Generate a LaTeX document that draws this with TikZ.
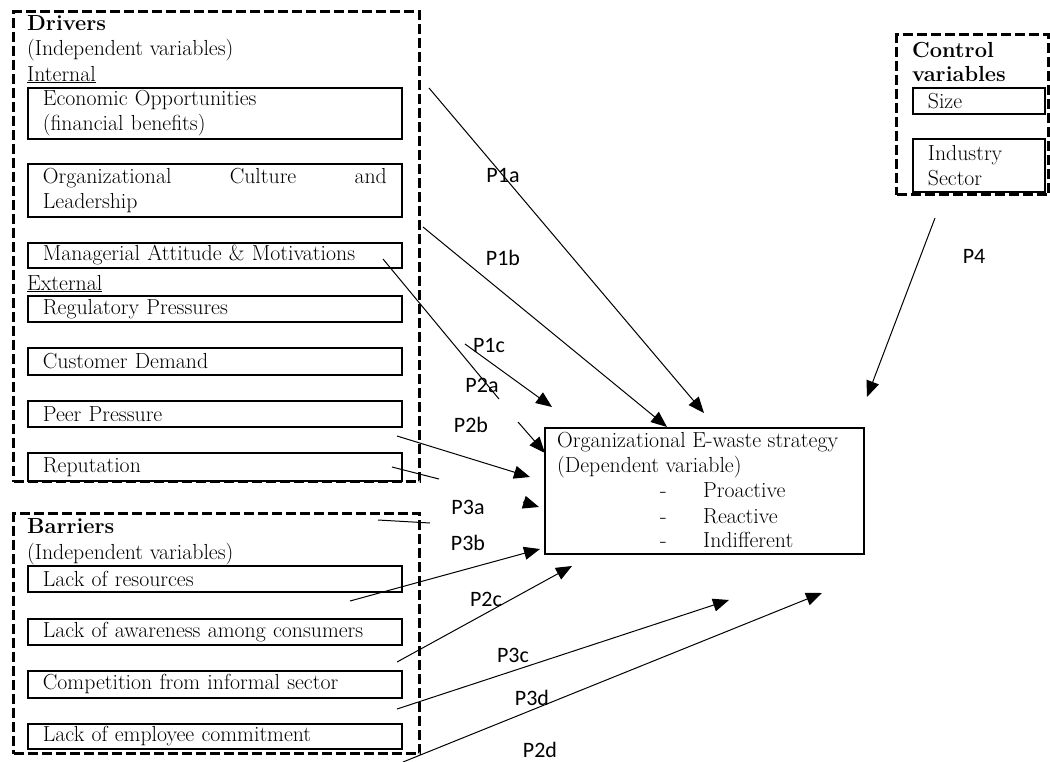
\documentclass[tikz,border=0pt]{standalone}
\usepackage{fontspec}
\newfontfamily\propfont{Carlito}
\usetikzlibrary{arrows.meta}
\tikzset{
  group/.style={draw,line width=3.4pt,dash pattern=on 10pt off 4pt,anchor=north west,inner sep=0pt},
  item/.style={draw,line width=1.8pt,anchor=north west,inner xsep=15pt,inner ysep=0pt,
    align=left,text width=344pt,minimum height=#1},
  item/.default=26pt,
  heading/.style={anchor=base west,inner sep=0pt},
  link/.style={line width=1pt,-{Triangle[length=16pt,width=13pt]}},
  plain/.style={line width=1pt},
  prop/.style={font=\propfont\fontsize{22}{26}\selectfont,inner sep=0pt}
}

\begin{document}
\begin{tikzpicture}[x=1pt,y=-1pt,font=\fontsize{21.8}{25}\selectfont]
  \useasboundingbox (0,0) rectangle (1050,761);

  % dashed groups
  \node[group,minimum width=406pt,minimum height=470pt] (drivers) at (12,10) {};
  \node[group,minimum width=406pt,minimum height=240pt] (barriers) at (12,512) {};
  \node[group,minimum width=152pt,minimum height=160pt] (controls) at (895,33) {};

  % drivers
  \node[heading] (drvtitle) at (27,30) {\textbf{Drivers}};
  \node[heading] (drvsub) at (27,55) {(Independent variables)};
  \node[heading] (internal) at (27,81) {\underline{Internal}};
  \node[item=51pt] (eco) at (27,87) {Economic Opportunities\\(financial benefits)};
  \node[item=53pt] (cult) at (27,163) {Organizational\hfill Culture\hfill and\\Leadership};
  \node[item=25pt] (mgr) at (27,242) {Managerial Attitude \& Motivations};
  \node[heading] (external) at (27,290) {\underline{External}};
  \node[item] (reg) at (27,295) {Regulatory Pressures};
  \node[item=27pt] (cust) at (27,347) {Customer Demand};
  \node[item] (peer) at (27,400) {Peer Pressure};
  \node[item=28pt] (rep) at (27,452) {Reputation};

  % barriers
  \node[heading] (bartitle) at (27,533) {\textbf{Barriers}};
  \node[heading] (barsub) at (27,559) {(Independent variables)};
  \node[item] (res) at (27,565) {Lack of resources};
  \node[item] (aware) at (27,618) {Lack of awareness among consumers};
  \node[item=27pt] (comp) at (27,670) {Competition from informal sector};
  \node[item=25pt] (commit) at (27,723) {Lack of employee commitment};

  % control variables
  \node[heading] (ctltitle) at (912,57) {\textbf{Control}};
  \node[heading] (ctlsub) at (912,81) {\textbf{variables}};
  \node[item,text width=102pt] (size) at (912,87) {Size};
  \node[item=53pt,text width=102pt] (sector) at (912,138) {Industry\\Sector};

  % dependent variable
  \node[draw,line width=1.8pt,anchor=north west,minimum width=319pt,minimum height=126pt] (strategy) at (544,427) {};
  \node[heading] (strattitle) at (557,447) {Organizational E-waste strategy};
  \node[heading] (stratsub) at (557,472) {(Dependent variable)};
  \foreach \y/\txt in {497/Proactive,523/Reactive,547/Indifferent} {
    \node[heading] (dash\txt) at (660,\y) {-};
    \node[heading] (opt\txt) at (703,\y) {\txt};
  }

  % connector ends
  \coordinate (a1) at (429,88);   \coordinate (b1) at (704,413);
  \coordinate (a2) at (423,227);  \coordinate (b2) at (667,427);
  \coordinate (a3) at (465,344);  \coordinate (b3) at (552,407);
  \coordinate (a4) at (518,422);  \coordinate (b4) at (545,453);
  \coordinate (a5) at (397,436);  \coordinate (b5) at (530,477);
  \coordinate (a6) at (523,502);  \coordinate (b6) at (539,507);
  \coordinate (a7) at (350,601);  \coordinate (b7) at (540,549);
  \coordinate (a8) at (397,662);  \coordinate (b8) at (572,566);
  \coordinate (a9) at (397,709);  \coordinate (b9) at (729,600);
  \coordinate (a10) at (403,762); \coordinate (b10) at (822,593);
  \coordinate (a11) at (935,218); \coordinate (b11) at (867,397);
  \coordinate (c1) at (383,259);  \coordinate (d1) at (499,399);
  \coordinate (c2) at (392,467);  \coordinate (d2) at (439,479);
  \coordinate (c3) at (378,520);  \coordinate (d3) at (430,523);

  \foreach \i in {1,...,11} {
    \draw[link] (a\i) -- (b\i);
  }
  \foreach \i in {1,2,3} {
    \draw[plain] (c\i) -- (d\i);
  }

  % proposition labels
  \foreach \x/\y/\txt in {503/175/P1a,503/258/P1b,489/345/P1c,482/385/P2a,471/425/P2b,
      468/507/P3a,468/543/P3b,486/599/P2c,513/655/P3c,532/698/P3d,540/750/P2d,974/256/P4} {
    \node[prop] (lbl\txt) at (\x,\y) {\txt};
  }
\end{tikzpicture}
\end{document}
